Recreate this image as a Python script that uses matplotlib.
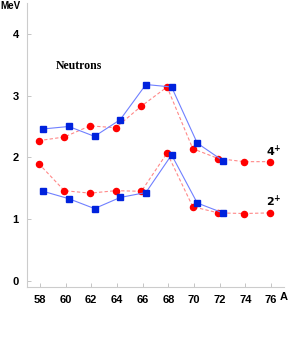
import numpy as np
import matplotlib
matplotlib.use('Agg')
import matplotlib.pyplot as plt

# 数据
A_exp = np.array([58, 60, 62, 64, 66, 68, 70, 72])
e4_exp = [2.46, 2.50, 2.34, 2.61, 3.18, 3.14, 2.23, 1.945]
e2_exp = [1.45, 1.33, 1.17, 1.35, 1.43, 2.04, 1.26, 1.10]

A_th = np.array([58, 60, 62, 64, 66, 68, 70, 72, 74, 76])
e4_th = [2.27, 2.33, 2.51, 2.48, 2.83, 3.14, 2.14, 1.98, 1.93, 1.93]
e2_th = [1.90, 1.46, 1.42, 1.46, 1.45, 2.07, 1.20, 1.10, 1.09, 1.10]

xticks = [58, 60, 62, 64, 66, 68, 70, 72, 74, 76]
yticks = [0, 1, 2, 3, 4]

fig = plt.figure(figsize=(2.88, 3.38), dpi=100)
ax = fig.add_axes([0.094, 0.151, 0.892, 0.84])

shift = 0.25  # 实验点略微右移
for e in (e4_th, e2_th):
    ax.plot(A_th - 0.1, e, color='#ff8888', ls='--', lw=0.8, dashes=(3, 2),
            marker='o', ms=4.4, mfc='#ff0000', mec='#ff0000', zorder=2)
for e in (e4_exp, e2_exp):
    ax.plot(A_exp + shift, e, color='#7080ff', ls='-', lw=0.8,
            marker='s', ms=4.5, mfc='#0022dd', mec='#0022dd', zorder=3)

ax.set_xlim(57, 77)
ax.set_ylim(-0.1, 4.5)
ax.set_xticks(xticks)
ax.set_yticks(yticks)
for s in ('top', 'right'):
    ax.spines[s].set_visible(False)
for s in ('left', 'bottom'):
    ax.spines[s].set_color('#cccccc')
    ax.spines[s].set_linewidth(0.8)
ax.tick_params(direction='in', length=3, width=0.6, color='#bbbbbb', pad=6)
for lab in ax.get_xticklabels() + ax.get_yticklabels():
    lab.set_fontfamily('Liberation Sans')
    lab.set_fontweight('bold')
    lab.set_fontsize(8)

ax.text(61.0, 3.48, 'Neutrons', family='Liberation Serif', weight='bold',
        fontsize=8.5, ha='center', va='center')
ax.text(76.2, 2.10, r'$\mathbf{4^{+}}$', fontsize=8, ha='center', va='center')
ax.text(76.2, 1.28, r'$\mathbf{2^{+}}$', fontsize=8, ha='center', va='center')

fig.text(0.002, 0.983, 'MeV', family='Liberation Sans', weight='bold',
         fontsize=7, ha='left', va='center')
fig.text(0.972, 0.122, 'A', family='Liberation Sans', weight='bold',
         fontsize=8, ha='left', va='center')

fig.savefig('out.png', dpi=100)
